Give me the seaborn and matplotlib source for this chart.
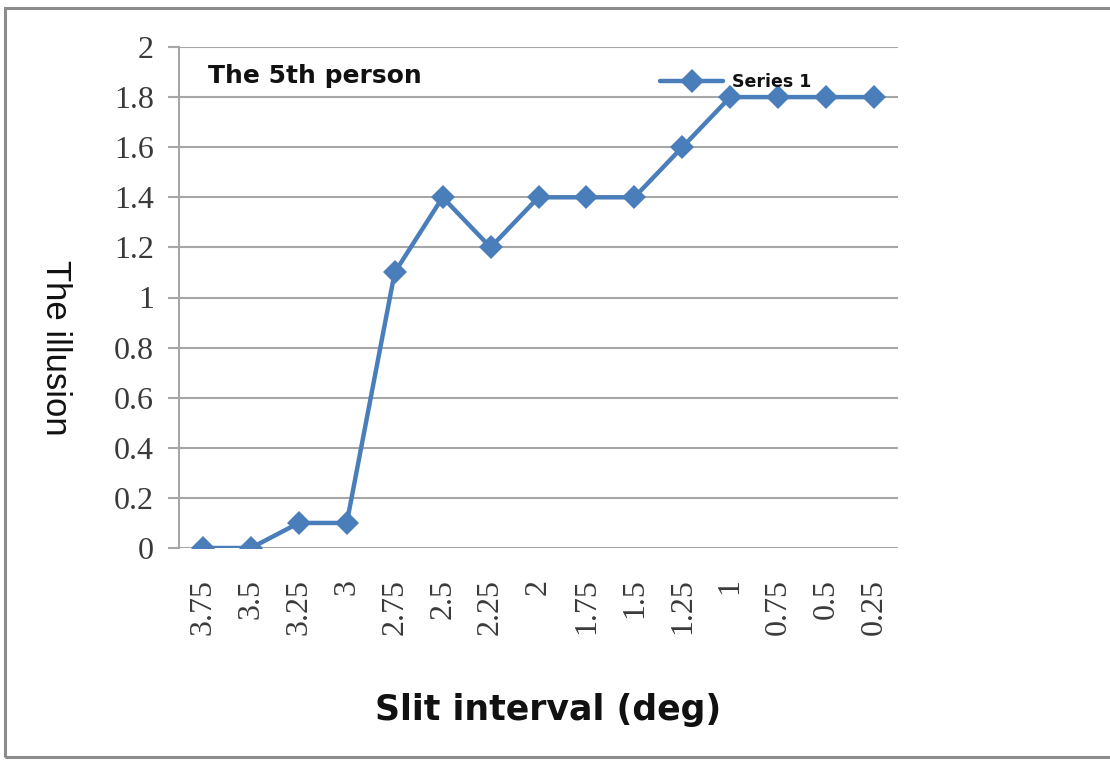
import matplotlib
matplotlib.use("Agg")
import matplotlib.pyplot as plt
import seaborn as sns
import pandas as pd
from matplotlib.patches import Rectangle

# Slit interval categories (deg) and illusion strength for the 5th person
slit_labels = ["3.75", "3.5", "3.25", "3", "2.75", "2.5", "2.25", "2",
               "1.75", "1.5", "1.25", "1", "0.75", "0.5", "0.25"]
illusion = [0, 0, 0.1, 0.1, 1.1, 1.4, 1.2, 1.4, 1.4, 1.4, 1.6, 1.8, 1.8, 1.8, 1.8]
y_ticks = [0, 0.2, 0.4, 0.6, 0.8, 1, 1.2, 1.4, 1.6, 1.8, 2]
y_tick_labels = ["0", "0.2", "0.4", "0.6", "0.8", "1", "1.2", "1.4", "1.6", "1.8", "2"]

df = pd.DataFrame({"pos": range(len(slit_labels)), "value": illusion, "series": "Series 1"})

sns.set_theme(style="white")
plt.rcParams["font.family"] = ["DejaVu Sans"]

W, H = 1110, 760
fig = plt.figure(figsize=(W / 100, H / 100), dpi=100)
ax = fig.add_axes([179 / W, 1 - 548 / H, (898 - 179) / W, (548 - 47) / H])

line_color = "#4a7ebb"
grid_color = "#a6a6a6"

sns.lineplot(data=df, x="pos", y="value", hue="series", palette=[line_color],
             marker="D", markersize=12, markeredgewidth=0, linewidth=3.2,
             ax=ax, legend=True)

ax.set_xlim(-0.5, len(slit_labels) - 0.5)
ax.set_ylim(0, 2)
ax.set_yticks(y_ticks)
ax.set_yticklabels(y_tick_labels, family="Liberation Serif", fontsize=23, color="#3a3a3a")
ax.set_xticks(range(len(slit_labels)))
ax.set_xticklabels(slit_labels, rotation=90, family="Liberation Serif", fontsize=23,
                   color="#3a3a3a", va="top")
ax.tick_params(axis="y", length=8, width=1.5, color=grid_color, pad=10, left=True)
ax.tick_params(axis="x", length=0, pad=22)

ax.grid(axis="y", color=grid_color, linewidth=1.5)
ax.set_axisbelow(True)
for side in ["top", "right", "bottom"]:
    ax.spines[side].set_visible(False)
ax.spines["left"].set_color(grid_color)
ax.spines["left"].set_linewidth(1.5)

ax.set_xlabel("Slit interval (deg)", fontsize=25, fontweight="bold", color="#111111")
ax.set_ylabel("The illusion", family="Liberation Sans", fontsize=25, color="#111111",
              rotation=270, va="center")
ax.xaxis.set_label_coords(0.513, -0.29)
ax.yaxis.set_label_coords(-0.172, 0.40)

ax.text(0.04, 0.943, "The 5th person", transform=ax.transAxes, fontsize=18,
        fontweight="bold", color="#111111", va="center", ha="left")

leg = ax.legend(loc="center left", bbox_to_anchor=(0.66, 0.93), frameon=False,
                fontsize=12.5, handlelength=3.6, handletextpad=0.5, borderaxespad=0)
for t in leg.get_texts():
    t.set_fontweight("bold")
    t.set_color("#111111")

# outer frame around the chart area
fig.patches.append(Rectangle((5 / W, 1 - 757 / H), 1.2, (757 - 8) / H,
                             transform=fig.transFigure, fill=False,
                             edgecolor="#8c8c8c", linewidth=2.2, clip_on=False))

fig.savefig("out.png", dpi=100, facecolor="white")
